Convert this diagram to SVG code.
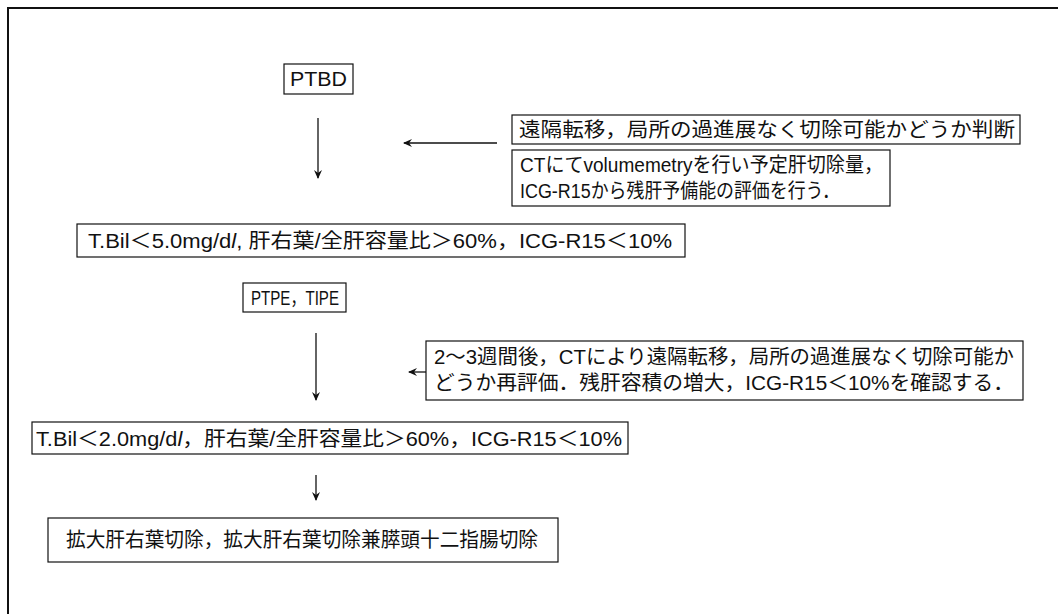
<svg xmlns="http://www.w3.org/2000/svg" width="1058" height="614" viewBox="0 0 1058 614">
<style>
.box{fill:#fff;stroke:#111;stroke-width:1.2}
.t{font-family:"Liberation Sans","Noto Sans CJK JP",sans-serif;font-size:20px;fill:#111}
.c{stroke:#111;stroke-width:1.3;fill:none}
.frame{stroke:#111;stroke-width:2;fill:none}
</style>
<defs>
<marker id="ah" markerWidth="10" markerHeight="10" refX="8" refY="5" orient="auto" markerUnits="userSpaceOnUse">
<path d="M0,1 L9,5 L0,9 L3,5 Z" fill="#111"/>
</marker>
</defs>
<rect width="1058" height="614" fill="#fff"/>
<path class="frame" d="M8,614 V8 H1058"/>
<g id="connectors">
<line class="c" x1="318" y1="118" x2="318" y2="178" marker-end="url(#ah)"/>
<line class="c" x1="497" y1="143" x2="404" y2="143" marker-end="url(#ah)"/>
<line class="c" x1="316" y1="333" x2="316" y2="400" marker-end="url(#ah)"/>
<line class="c" x1="440" y1="372" x2="409" y2="372" marker-end="url(#ah)"/>
<line class="c" x1="316" y1="475" x2="316" y2="500" marker-end="url(#ah)"/>
</g>
<g id="ptbd">
<rect class="box" x="284" y="64" width="69" height="30"/>
<text class="t" x="290" y="86" textLength="57" lengthAdjust="spacingAndGlyphs">PTBD</text>
</g>
<g id="judge1">
<rect class="box" x="512" y="115" width="508" height="29"/>
<text class="t" x="519" y="137" textLength="496" lengthAdjust="spacingAndGlyphs">遠隔転移，局所の過進展なく切除可能かどうか判断</text>
</g>
<g id="ctvol">
<rect class="box" x="512" y="150" width="378" height="56"/>
<text class="t" x="520" y="172" textLength="363" lengthAdjust="spacingAndGlyphs">CTにてvolumemetryを行い予定肝切除量，</text>
<text class="t" x="520" y="198" textLength="320" lengthAdjust="spacingAndGlyphs">ICG-R15から残肝予備能の評価を行う．</text>
</g>
<g id="cond1">
<rect class="box" x="77" y="224" width="608" height="33"/>
<text class="t" x="88" y="248" textLength="584" lengthAdjust="spacingAndGlyphs">T.Bil＜5.0mg/d<tspan font-style="italic">l</tspan>, 肝右葉/全肝容量比＞60%，ICG-R15＜10%</text>
</g>
<g id="ptpe">
<rect class="box" x="243" y="283" width="103" height="29"/>
<text class="t" x="251" y="305" textLength="88" lengthAdjust="spacingAndGlyphs">PTPE，TIPE</text>
</g>
<g id="judge2">
<rect class="box" x="426" y="341" width="597" height="59"/>
<text class="t" x="434" y="364" textLength="580" lengthAdjust="spacingAndGlyphs">2～3週間後，CTにより遠隔転移，局所の過進展なく切除可能か</text>
<text class="t" x="434" y="390" textLength="580" lengthAdjust="spacingAndGlyphs">どうか再評価．残肝容積の増大，ICG-R15＜10%を確認する．</text>
</g>
<g id="cond2">
<rect class="box" x="32" y="422" width="596" height="32"/>
<text class="t" x="36" y="446" textLength="586" lengthAdjust="spacingAndGlyphs">T.Bil＜2.0mg/d<tspan font-style="italic">l</tspan>，肝右葉/全肝容量比＞60%，ICG-R15＜10%</text>
</g>
<g id="surgery">
<rect class="box" x="48" y="518" width="510" height="44"/>
<text class="t" x="66" y="547" textLength="472" lengthAdjust="spacingAndGlyphs">拡大肝右葉切除，拡大肝右葉切除兼膵頭十二指腸切除</text>
</g>
</svg>
